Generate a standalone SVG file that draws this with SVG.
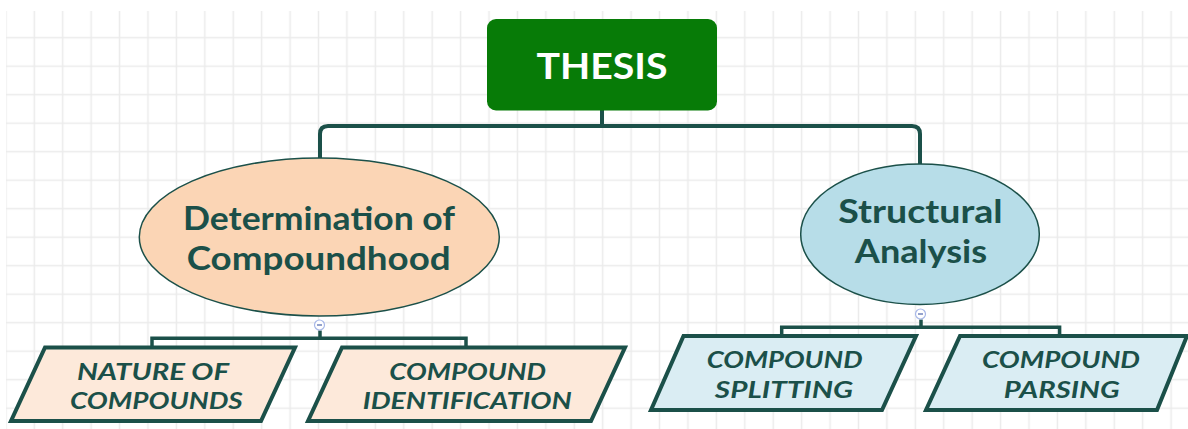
<svg xmlns="http://www.w3.org/2000/svg" width="1188" height="429" viewBox="0 0 1188 429">
  <defs>
    <pattern id="grid" patternUnits="userSpaceOnUse" x="20.09" y="23.45" width="28.42" height="28.5">
      <path d="M14.21 0 V28.5 M0 14.25 H28.42" stroke="#ebebeb" stroke-width="1.5" fill="none"/>
    </pattern>
    <style>
      .conn { fill: none; stroke: #1b5049; stroke-width: 4; stroke-linejoin: round; stroke-linecap: butt; }
      .brk { fill: none; stroke: #1b5049; stroke-width: 3.5; stroke-linejoin: miter; }
      .main { font-family: Lato, "Open Sans", "Liberation Sans", sans-serif; font-weight: 700; fill: #1b5049; text-anchor: middle; font-size: 32.5px; }
      .sub { font-family: Lato, "Open Sans", "Liberation Sans", sans-serif; font-weight: 700; font-style: italic; fill: #1b5049; text-anchor: middle; font-size: 23.5px; }
      .para { stroke: #1b5049; stroke-width: 4; stroke-linejoin: miter; }
      .peach { fill: #fde9da; }
      .blue { fill: #daedf3; }
      .ell { stroke: #1b5049; stroke-width: 1.5; }
      .mk { fill: #ffffff; stroke: #a8b8e8; stroke-width: 1.2; }
      .mkl { stroke: #7284bd; stroke-width: 1.5; }
    </style>
  </defs>
  <rect x="0" y="0" width="1188" height="429" fill="#ffffff"/>
  <rect x="6" y="11" width="1182" height="418" fill="url(#grid)"/>

  <g id="connectors">
    <path class="conn" d="M602 110 V126"/>
    <path class="conn" d="M320 158 V134 Q320 126 328 126 H912 Q920 126 920 134 V164"/>
    <path class="brk" d="M152 347.5 V338.3 H466 V347.5"/>
    <path class="brk" d="M320 330.5 V338.3"/>
    <path class="brk" d="M781.7 336 V327.3 H1059.6 V336"/>
    <path class="brk" d="M921 319.5 V327.3"/>
  </g>

  <g id="thesis">
    <rect x="487" y="19" width="230" height="91.5" rx="9" ry="9" fill="#077b07"/>
    <text x="602" y="79" font-family="Lato, 'Open Sans', 'Liberation Sans', sans-serif" font-weight="700" font-size="37" fill="#ffffff" text-anchor="middle" textLength="131" lengthAdjust="spacingAndGlyphs">THESIS</text>
  </g>

  <g id="determination">
    <ellipse class="ell" cx="319.3" cy="237" rx="180" ry="79" fill="#fbd5b5"/>
    <text class="main" x="319" y="230" textLength="272" lengthAdjust="spacingAndGlyphs">Determination of</text>
    <text class="main" x="318.7" y="270" textLength="264" lengthAdjust="spacingAndGlyphs">Compoundhood</text>
    <circle class="mk" cx="319.5" cy="325" r="5"/>
    <path class="mkl" d="M317 325 H322"/>
  </g>

  <g id="structural">
    <ellipse class="ell" cx="920" cy="234.2" rx="119.3" ry="70.2" fill="#b7dde8"/>
    <text class="main" x="920.5" y="223.3" textLength="164.4" lengthAdjust="spacingAndGlyphs">Structural</text>
    <text class="main" x="921" y="262.7" textLength="132.3" lengthAdjust="spacingAndGlyphs">Analysis</text>
    <circle class="mk" cx="920.5" cy="314" r="5"/>
    <path class="mkl" d="M918 314 H923"/>
  </g>

  <g id="nature">
    <path class="para peach" d="M45 347.5 L295 347.5 L261 421 L11 421 Z"/>
    <text class="sub" x="153" y="380" textLength="152" lengthAdjust="spacingAndGlyphs">NATURE OF</text>
    <text class="sub" x="156.3" y="408.5" textLength="172.7" lengthAdjust="spacingAndGlyphs">COMPOUNDS</text>
  </g>

  <g id="identification">
    <path class="para peach" d="M342 347.5 L625 347.5 L591 421 L308 421 Z"/>
    <text class="sub" x="467.7" y="379.5" textLength="156.7" lengthAdjust="spacingAndGlyphs">COMPOUND</text>
    <text class="sub" x="467.2" y="409" textLength="209" lengthAdjust="spacingAndGlyphs">IDENTIFICATION</text>
  </g>

  <g id="splitting">
    <path class="para blue" d="M683.5 336 L916 336 L882 410 L651 410 Z"/>
    <text class="sub" x="784.7" y="367.7" textLength="156" lengthAdjust="spacingAndGlyphs">COMPOUND</text>
    <text class="sub" x="784" y="398.3" textLength="138.3" lengthAdjust="spacingAndGlyphs">SPLITTING</text>
  </g>

  <g id="parsing">
    <path class="para blue" d="M960 336 L1187 336 L1157 410 L926 410 Z"/>
    <text class="sub" x="1061" y="367.7" textLength="158" lengthAdjust="spacingAndGlyphs">COMPOUND</text>
    <text class="sub" x="1061.7" y="398.3" textLength="116" lengthAdjust="spacingAndGlyphs">PARSING</text>
  </g>
</svg>
